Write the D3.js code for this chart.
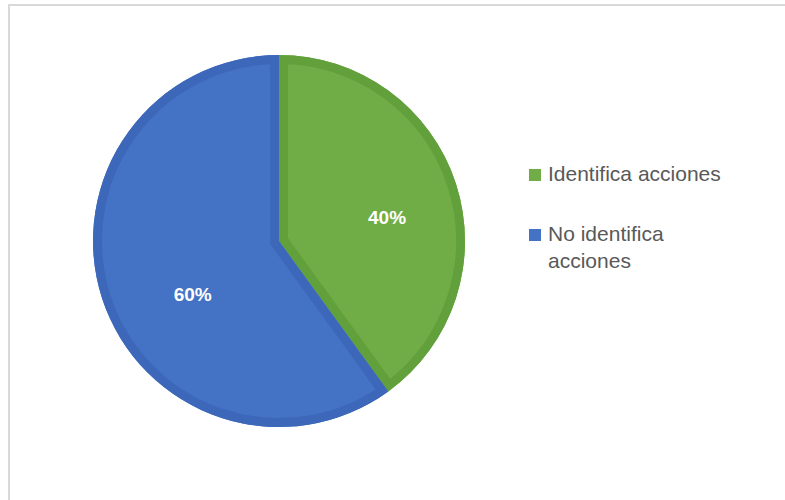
<!DOCTYPE html>
<html>
<head>
<meta charset="utf-8">
<script src="https://cdn.jsdelivr.net/npm/d3@7"></script>
<style>
  html, body { margin: 0; padding: 0; background: #fff; }
  svg { display: block; }
</style>
</head>
<body>
<svg id="chart" width="785" height="500"></svg>
<script>
const categories = ["Identifica acciones", "No identifica acciones"];
const legendLines = [["Identifica acciones"], ["No identifica", "acciones"]];
const values = [40, 60];
const labels = ["40%", "60%"];
const fills = ["#70AD47", "#4472C4"];
const strokes = ["#62A03C", "#3D68BA"];

const svg = d3.select("#chart");

// chart area border
svg.append("rect")
  .attr("x", 9).attr("y", 5)
  .attr("width", 800).attr("height", 520)
  .attr("fill", "#fff")
  .attr("stroke", "#D9D9D9")
  .attr("stroke-width", 2);

const cx = 279, cy = 241, r = 186;
const pie = d3.pie().sort(null).value(d => d)(values);
const arc = d3.arc().innerRadius(0).outerRadius(r);

const g = svg.append("g").attr("transform", `translate(${cx},${cy})`);
const defs = svg.append("defs");

pie.forEach((p, i) => {
  defs.append("clipPath").attr("id", "clip" + i)
    .append("path").attr("d", arc(p));
  g.append("path")
    .attr("d", arc(p))
    .attr("fill", fills[i]);
  g.append("path")
    .attr("d", arc(p))
    .attr("fill", "none")
    .attr("stroke", strokes[i])
    .attr("stroke-width", 18)
    .attr("stroke-linejoin", "miter")
    .attr("clip-path", `url(#clip${i})`);
});

// label placement (radius fraction and angular nudge, in radians)
const labelRad = [0.595, 0.546];
const labelNudge = [0.096, -0.24];
function labelPos(d, i) {
  const a = (d.startAngle + d.endAngle) / 2 + labelNudge[i];
  const rr = r * labelRad[i];
  return [Math.sin(a) * rr, -Math.cos(a) * rr];
}
g.selectAll("text.lbl")
  .data(pie)
  .enter().append("text")
  .attr("class", "lbl")
  .attr("transform", (d, i) => `translate(${labelPos(d, i)})`)
  .attr("text-anchor", "middle")
  .attr("dy", "0.35em")
  .attr("fill", "#fff")
  .attr("font-family", "Liberation Sans, Arial, sans-serif")
  .attr("font-weight", "bold")
  .attr("font-size", 19)
  .text((d, i) => labels[i]);

// legend
const legend = svg.append("g");
const legendY = [181, 241];
categories.forEach((c, i) => {
  legend.append("rect")
    .attr("x", 529).attr("y", legendY[i] - 12)
    .attr("width", 12).attr("height", 12)
    .attr("fill", fills[i]);
  const t = legend.append("text")
    .attr("x", 548).attr("y", legendY[i])
    .attr("fill", "#595959")
    .attr("font-family", "Liberation Sans, Arial, sans-serif")
    .attr("font-size", 21);
  legendLines[i].forEach((line, j) => {
    t.append("tspan").attr("x", 548).attr("y", legendY[i] + j * 27).text(line);
  });
});
</script>
</body>
</html>
